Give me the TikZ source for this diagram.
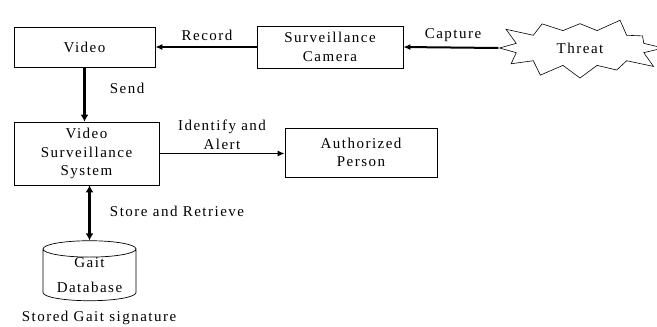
\documentclass[tikz,border=0pt]{standalone}
\usepackage{fontspec}
\setmainfont{Liberation Serif}[LetterSpace=10]
\usetikzlibrary{shapes.geometric, shapes.symbols, arrows.meta}

\begin{document}
\begin{tikzpicture}[x=1pt, y=-1pt, every node/.style={font=\fontsize{15}{18.5}\selectfont},
  blockbox/.style={draw, line width=0.7pt, align=center, inner sep=0pt},
  thinarrow/.style={line width=1.4pt, -{Latex[length=7pt, width=6pt]}},
  thickarrow/.style={line width=2.8pt, -{Latex[length=7pt, width=8pt]}}]
  \useasboundingbox (0,0) rectangle (657,327);
  % boxes
  \node[blockbox, minimum width=141pt, minimum height=40pt] (video) at (84.5,47) {Video};
  \node[blockbox, minimum width=146pt, minimum height=42pt] (camera) at (330,47) {Surveillance\\Camera};
  \node[draw, line width=0.6pt, shape=starburst, starburst points=12, starburst point height=20pt,
        random starburst=3, minimum width=172pt, minimum height=76pt, inner sep=0pt] (threat) at (580,48) {Threat};
  \node[blockbox, minimum width=145pt, minimum height=63pt] (vss) at (86.5,153.5) {Video\\Surveillance\\System};
  \node[blockbox, minimum width=152pt, minimum height=49pt] (auth) at (361,152.5) {Authorized\\Person};
  \node[draw, line width=0.7pt, shape=cylinder, shape border rotate=90, aspect=0.25, align=center,
        minimum width=93pt, minimum height=60pt, inner sep=0pt] (gaitdb) at (89.5,275) {Gait\\[6pt]Database};
  \node (stored) at (99,318) {Stored Gait signature};
  % connectors
  \draw[thinarrow] (camera.west) -- (video.east);
  \node at (207,35) {Record};
  \draw[line width=2pt, -{Latex[length=7pt, width=6pt]}] (threat.west) -- (camera.east);
  \node at (453,35) {Capture};
  \draw[thickarrow] (video.south) -- (video.south |- vss.north);
  \node at (127,88) {Send};
  \draw[thinarrow] (vss.east) -- (vss.east -| auth.west);
  \node[align=center] at (222,135) {Identify and\\Alert};
  \draw[thickarrow, {Latex[length=7pt, width=8pt]}-{Latex[length=7pt, width=8pt]}] (gaitdb.north |- vss.south) -- (gaitdb.north);
  \node at (177,211) {Store and Retrieve};
\end{tikzpicture}
\end{document}
